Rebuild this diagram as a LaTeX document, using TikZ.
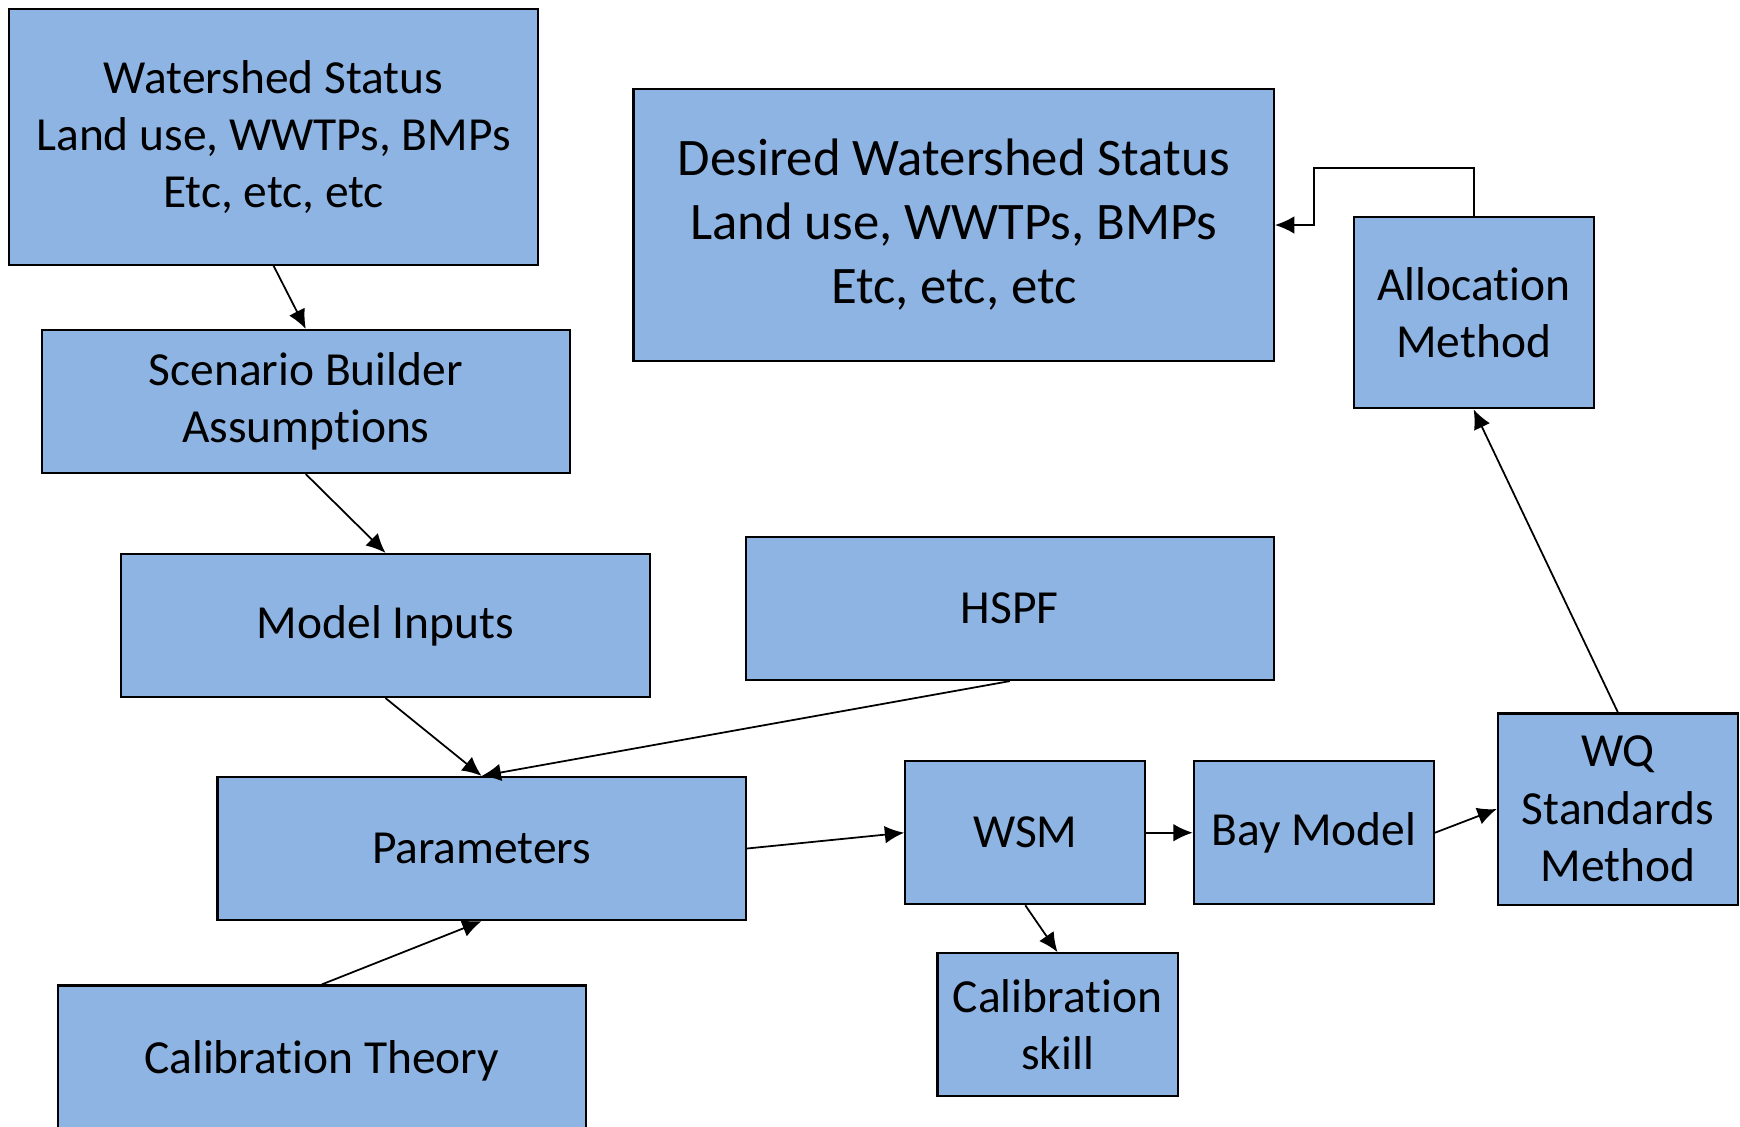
\documentclass[tikz,border=0pt]{standalone}
\usepackage{fontspec}
\setmainfont{Carlito}[Ligatures=NoCommon]
\usetikzlibrary{arrows.meta,positioning}
\definecolor{flowblue}{RGB}{142,180,227}

\begin{document}
\begin{tikzpicture}[x=0.01cm, y=-0.01cm,
  flowbox/.style={draw=black, line width=0.6pt, fill=flowblue, align=center,
    inner sep=0pt, font=\fontsize{13.5}{16.3}\selectfont},
  widebox/.style={flowbox, minimum width=5.28cm, minimum height=1.43cm},
  smallbox/.style={flowbox, minimum width=2.40cm, minimum height=1.43cm},
  link/.style={-{Latex[length=5.5pt,width=5pt]}, line width=0.5pt}]
  \useasboundingbox (0,0) rectangle (1740,1126);
  \clip (0,0) rectangle (1740,1126);

  % left column
  \node[widebox, minimum height=2.55cm] (status) at (273.5,137)
    {Watershed Status\\Land use, WWTPs, BMPs\\Etc, etc, etc};
  \node[widebox] (scenario) at (305.8,401.5) {Scenario Builder\\Assumptions};
  \node[widebox] (inputs) at (385.5,625.5) {Model Inputs};
  \node[widebox] (params) at (481.6,848.5) {Parameters};
  \node[widebox, minimum height=1.50cm] (theory) at (321.8,1060.5) {Calibration Theory};
  \node[widebox] (hspf) at (1009.8,608.5) {HSPF};

  % right part
  \node[flowbox, minimum width=6.40cm, minimum height=2.72cm,
    font=\fontsize{15}{18.2}\selectfont] (desired) at (953.7,225)
    {Desired Watershed Status\\Land use, WWTPs, BMPs\\Etc, etc, etc};
  \node[smallbox, minimum height=1.91cm] (alloc) at (1473.6,312.8) {Allocation\\Method};
  \node[smallbox, minimum height=1.91cm] (wq) at (1617.9,809) {WQ\\Standards\\Method};
  \node[smallbox] (wsm) at (1025.3,832.7) {WSM};
  \node[smallbox] (bay) at (1313.8,832.7) {Bay Model};
  \node[smallbox] (skill) at (1057.5,1024.7) {Calibration\\skill};
  \coordinate (bend) at (1313.9,168);

  \draw[link] (status.south) -- (scenario.north);
  \draw[link] (scenario.south) -- (inputs.north);
  \draw[link] (inputs.south) -- (params.north);
  \draw[link] (hspf.south) -- (params.north);
  \draw[link] (theory.north) -- (params.south);
  \draw[link] (params.east) -- (wsm.west);
  \draw[link] (wsm.east) -- (bay.west);
  \draw[link] (bay.east) -- (wq.west);
  \draw[link] (wsm.south) -- (skill.north);
  \draw[link] (wq.north) -- (alloc.south);
  \draw[link] (alloc.north) |- (bend) |- (desired.east);
\end{tikzpicture}
\end{document}
